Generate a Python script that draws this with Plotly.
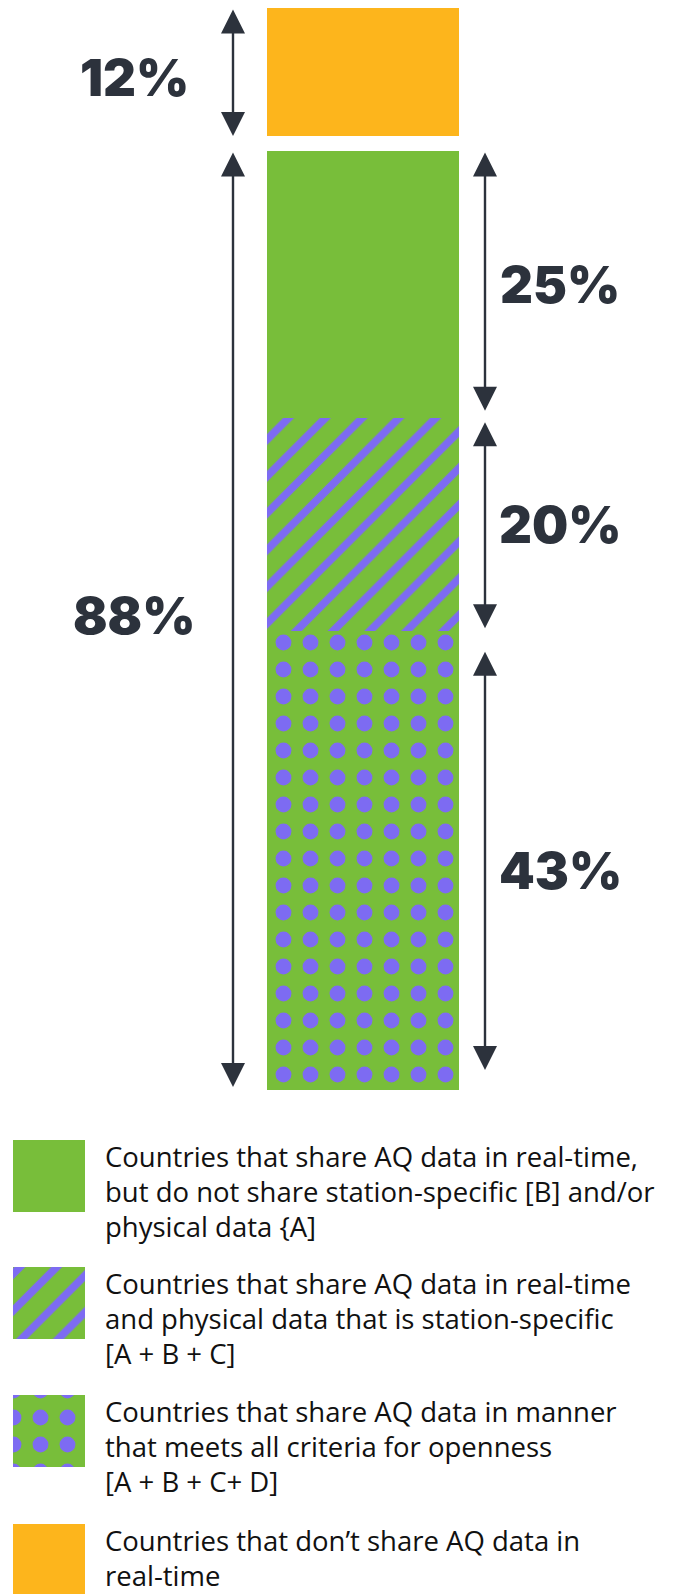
import plotly.graph_objects as go

# ---- data -------------------------------------------------------------
# stacked from the bottom of the bar upward
segment_keys = ["open", "station", "realtime", "none"]
segment_shares = [43, 20, 25, 12]
segment_names = {
    "realtime": ["Countries that share AQ data in real-time,",
                 "but do not share station-specific [B] and/or",
                 "physical data {A]"],
    "station": ["Countries that share AQ data in real-time",
                "and physical data that is station-specific",
                "[A + B + C]"],
    "open": ["Countries that share AQ data in manner",
             "that meets all criteria for openness",
             "[A + B + C+ D]"],
    "none": ["Countries that don\u2019t share AQ data in",
             "real-time"],
}
legend_order = ["realtime", "station", "open", "none"]

# ---- styling ----------------------------------------------------------
GREEN = "#78BE3A"
ORANGE = "#FDB51C"
PURPLE = "#7D6BF2"
INK = "#2C323C"
TEXT = "#111111"

styles = {
    "realtime": dict(color=GREEN),
    "station": dict(color=GREEN, pattern=dict(shape="/", fgcolor=PURPLE, bgcolor=GREEN,
                                               size=26, solidity=0.3, fillmode="replace")),
    "open": dict(color=GREEN, pattern=dict(shape=".", fgcolor=PURPLE, bgcolor=GREEN,
                                            size=27, solidity=0.27, fillmode="replace")),
    "none": dict(color=ORANGE),
}

W, H = 689, 1594
PLOT_TOP, PLOT_BOTTOM = 8, 1090          # pixel rows of the bar area
BAR_X, BAR_W = 363, 192                  # bar centre / width in px
GAP = 1.4                                # space between green and orange blocks
Y_MAX = sum(segment_shares) + GAP

fig = go.Figure()

# ---- stacked bar --------------------------------------------------------
bases = {}
acc = 0.0
for key, val in zip(segment_keys, segment_shares):
    if key == "none":
        acc += GAP
    bases[key] = acc
    fig.add_trace(go.Bar(
        x=[BAR_X], y=[val], base=[acc], width=[BAR_W],
        marker=dict(line=dict(width=0), **styles[key]),
        xaxis="x", yaxis="y", showlegend=False, hoverinfo="skip",
    ))
    acc += val

green_keys = ["open", "station", "realtime"]
green_total = sum(segment_shares[segment_keys.index(k)] for k in green_keys)
share = dict(zip(segment_keys, segment_shares))

# ---- dimension arrows ---------------------------------------------------
LEFT_X, RIGHT_X = 233, 485


def dim_arrow(x, lo, hi, pad_lo=0, pad_hi=0):
    fig.add_annotation(
        x=x, y=lo, ax=x, ay=hi, xref="x", yref="y", axref="x", ayref="y",
        text="", showarrow=True, arrowside="end+start", arrowhead=2, startarrowhead=2,
        arrowwidth=2.4, arrowsize=2.0, startarrowsize=2.0, arrowcolor=INK,
        standoff=pad_lo, startstandoff=pad_hi,
    )


dim_arrow(LEFT_X, bases["none"], bases["none"] + share["none"])
dim_arrow(LEFT_X, 0, green_total, pad_lo=3)
dim_arrow(RIGHT_X, bases["realtime"], bases["realtime"] + share["realtime"], pad_lo=7)
dim_arrow(RIGHT_X, bases["station"], bases["station"] + share["station"], pad_lo=3, pad_hi=3)
dim_arrow(RIGHT_X, bases["open"], bases["open"] + share["open"], pad_lo=20, pad_hi=19)

# ---- percentage labels --------------------------------------------------
pct_font = dict(family="Inter", size=51, color=INK, weight=900)
LEFT_LABEL_X, RIGHT_LABEL_X = 134, 560


def pct_label(x, value, centre, yshift=0):
    fig.add_annotation(x=x, y=centre, xref="x", yref="y", text=f"{value}%",
                       showarrow=False, font=pct_font, xanchor="center",
                       yanchor="middle", yshift=yshift)


pct_label(LEFT_LABEL_X, share["none"], bases["none"] + share["none"] / 2, yshift=-5)
pct_label(LEFT_LABEL_X, green_total, green_total / 2, yshift=5)
for k, ys in [("realtime", 0), ("station", 0), ("open", -10)]:
    pct_label(RIGHT_LABEL_X, share[k], bases[k] + share[k] / 2, yshift=ys)

# ---- legend (swatches drawn as bars on a pixel-unit axis) ---------------
SW_X, SW_SIZE = 49, 72
SW_TOPS = [1140, 1267, 1395, 1524]
TXT_X, LINE_GAP, FIRST_LINE = 103, 35, 16
leg_font = dict(family="Open Sans", size=27.5, color=TEXT)

for key, top in zip(legend_order, SW_TOPS):
    fig.add_trace(go.Bar(
        x=[SW_X], y=[SW_SIZE], base=[top], width=[SW_SIZE],
        marker=dict(line=dict(width=0), **styles[key]),
        xaxis="x", yaxis="y2", showlegend=False, hoverinfo="skip",
    ))
    for i, line in enumerate(segment_names[key]):
        fig.add_annotation(x=TXT_X, y=top + FIRST_LINE + i * LINE_GAP, xref="x", yref="y2",
                           text=line, showarrow=False, font=leg_font,
                           xanchor="left", yanchor="middle")

# ---- layout ---------------------------------------------------------------
fig.update_layout(
    width=W, height=H, margin=dict(l=0, r=0, t=0, b=0),
    paper_bgcolor="white", plot_bgcolor="rgba(0,0,0,0)",
    barmode="overlay", bargap=0,
    xaxis=dict(range=[0, W], visible=False, fixedrange=True),
    yaxis=dict(range=[0, Y_MAX], visible=False, fixedrange=True,
               domain=[(H - PLOT_BOTTOM) / H, (H - PLOT_TOP) / H]),
    yaxis2=dict(range=[H, 0], visible=False, fixedrange=True, domain=[0, 1],
                anchor="x"),
    showlegend=False,
)

fig.write_html("out.html")
